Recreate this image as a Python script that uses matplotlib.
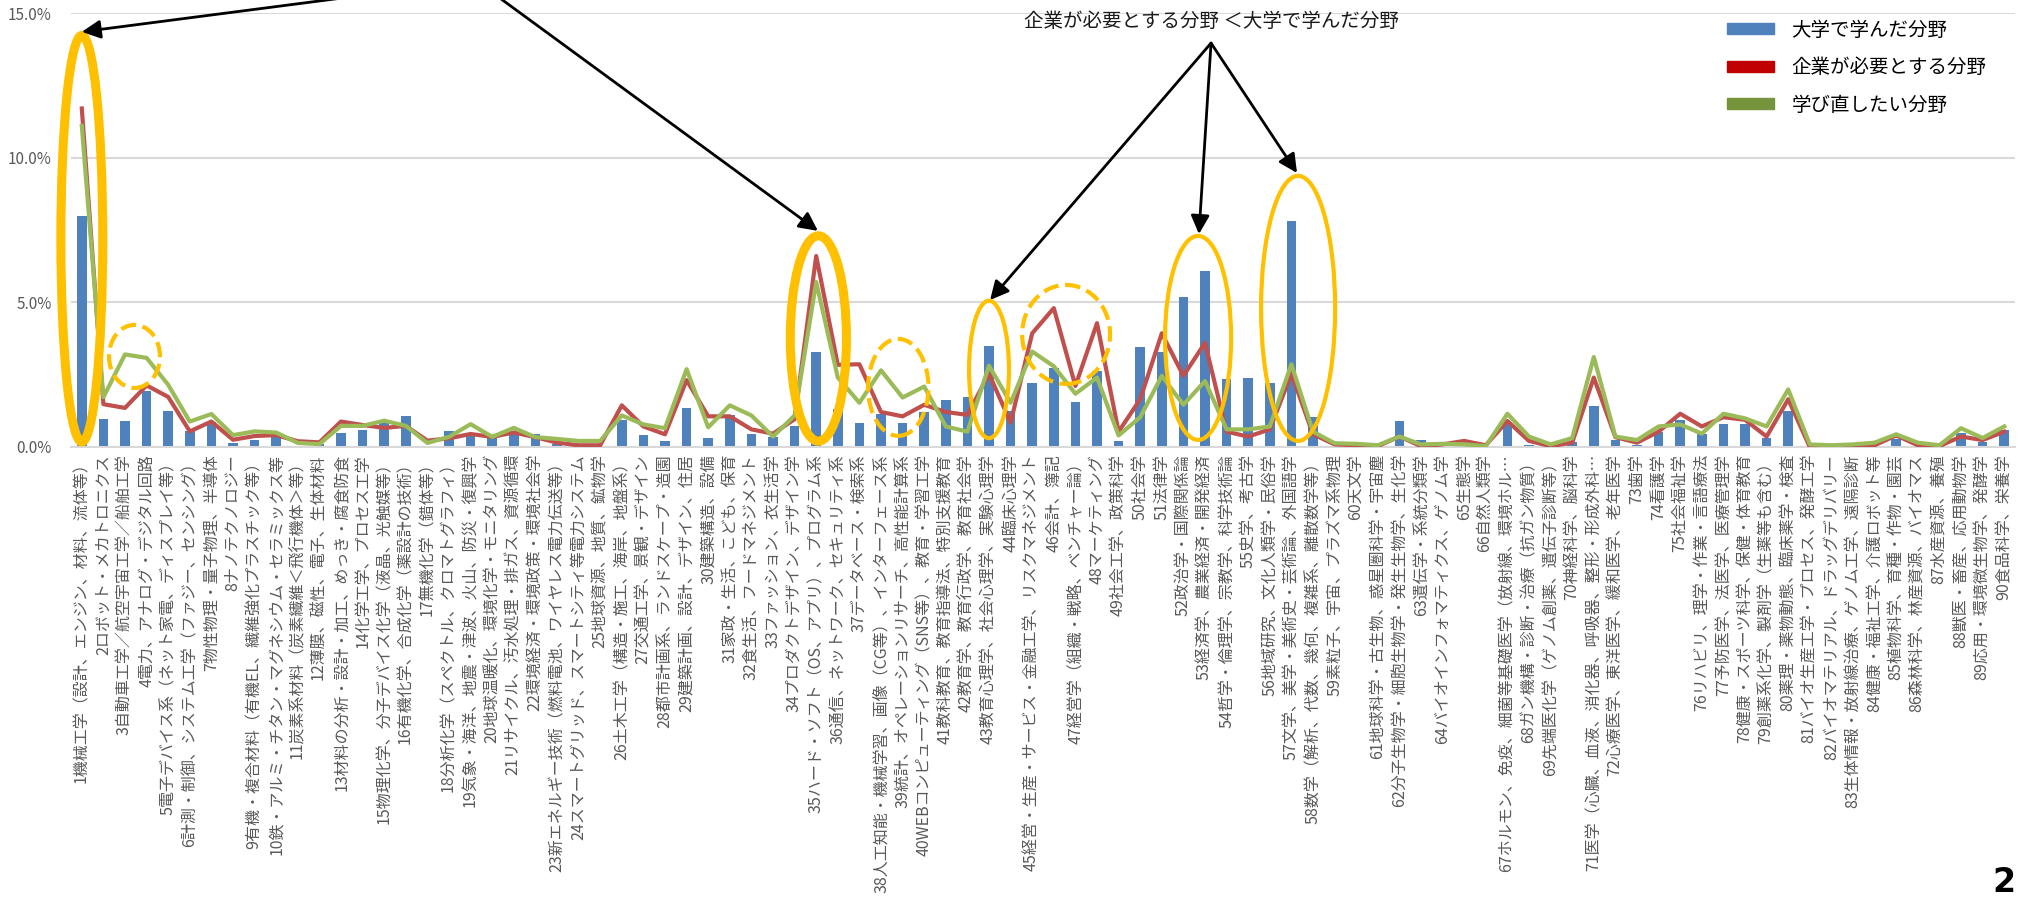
import numpy as np
import matplotlib
matplotlib.use("Agg")
import matplotlib.pyplot as plt
from matplotlib.patches import Ellipse, Patch

plt.rcParams['font.family'] = ['Noto Sans CJK JP', 'DejaVu Sans']

fields = [
    "1機械工学（設計、エンジン、材料、流体等）", "2ロボット・メカトロニクス", "3自動車工学／航空宇宙工学／船舶工学",
    "4電力、アナログ・デジタル回路", "5電子デバイス系（ネット家電、ディスプレイ等）",
    "6計測・制御、システム工学（ファジー、センシング）", "7物性物理・量子物理、半導体", "8ナノテクノロジー",
    "9有機・複合材料（有機EL、繊維強化プラスチック等）", "10鉄・アルミ・チタン・マグネシウム・セラミックス等",
    "11炭素系材料（炭素繊維＜飛行機体＞等）", "12薄膜、磁性、電子、生体材料", "13材料の分析・設計・加工、めっき・腐食防食",
    "14化学工学、プロセス工学", "15物理化学、分子デバイス化学（液晶、光触媒等）", "16有機化学、合成化学（薬設計の技術）",
    "17無機化学（錯体等）", "18分析化学（スペクトル、クロマトグラフィ）", "19気象・海洋、地震・津波、火山、防災・復興学",
    "20地球温暖化、環境化学・モニタリング", "21リサイクル、汚水処理・排ガス、資源循環", "22環境経済・環境政策・環境社会学",
    "23新エネルギー技術（燃料電池、ワイヤレス電力伝送等）", "24スマートグリッド、スマートシティ等電力システム",
    "25地球資源、地質、鉱物学", "26土木工学（構造・施工、海岸、地盤系）", "27交通工学、景観・デザイン",
    "28都市計画系、ランドスケープ・造園", "29建築計画、設計、デザイン、住居", "30建築構造、設備",
    "31家政・生活、こども、保育", "32食生活、フードマネジメント", "33ファッション、衣生活学",
    "34プロダクトデザイン、デザイン学", "35ハード・ソフト（OS、アプリ）、プログラム系",
    "36通信、ネットワーク、セキュリティ系", "37データベース・検索系",
    "38人工知能・機械学習、画像（CG等）、インターフェース系", "39統計、オペレーションリサーチ、高性能計算系",
    "40WEBコンピューティング（SNS等）、教育・学習工学", "41教科教育、教育指導法、特別支援教育",
    "42教育学、教育行政学、教育社会学", "43教育心理学、社会心理学、実験心理学", "44臨床心理学",
    "45経営・生産・サービス・金融工学、リスクマネジメント", "46会計、簿記", "47経営学（組織・戦略、ベンチャー論）",
    "48マーケティング", "49社会工学、政策科学", "50社会学", "51法律学", "52政治学・国際関係論",
    "53経済学、農業経済・開発経済", "54哲学・倫理学、宗教学、科学技術論", "55史学、考古学",
    "56地域研究、文化人類学・民俗学", "57文学、美学・美術史・芸術論、外国語学",
    "58数学（解析、代数、幾何、複雑系、離散数学等）", "59素粒子、宇宙、プラズマ系物理", "60天文学",
    "61地球科学・古生物、惑星圏科学・宇宙塵", "62分子生物学・細胞生物学・発生生物学、生化学",
    "63遺伝学・系統分類学", "64バイオインフォマティクス、ゲノム学", "65生態学", "66自然人類学",
    "67ホルモン、免疫、細菌等基礎医学（放射線、環境ホル…", "68ガン機構・診断・治療（抗ガン物質）",
    "69先端医化学（ゲノム創薬、遺伝子診断等）", "70神経科学、脳科学",
    "71医学（心臓、血液、消化器、呼吸器、整形・形成外科…", "72心療医学、東洋医学、緩和医学、老年医学",
    "73歯学", "74看護学", "75社会福祉学", "76リハビリ、理学・作業・言語療法", "77予防医学、法医学、医療管理学",
    "78健康・スポーツ科学、保健・体育教育", "79創薬系化学、製剤学（生薬等も含む）",
    "80薬理・薬物動態、臨床薬学・検査", "81バイオ生産工学・プロセス、発酵工学",
    "82バイオマテリアル、ドラッグデリバリー", "83生体情報・放射線治療、ゲノム工学、遠隔診断",
    "84健康・福祉工学、介護ロボット等", "85植物科学、育種・作物・園芸", "86森林科学、林産資源、バイオマス",
    "87水産資源、養殖", "88獣医・畜産、応用動物学", "89応用・環境微生物学、発酵学", "90食品科学、栄養学",
]

# 大学で学んだ分野 (%)
univ = [8.0, 0.98, 0.91, 1.95, 1.26, 0.55, 0.85, 0.14, 0.25, 0.41,
        0.03, 0.10, 0.50, 0.60, 0.95, 1.08, 0.04, 0.54, 0.41, 0.33,
        0.44, 0.46, 0.09, 0.03, 0.03, 0.94, 0.40, 0.21, 1.36, 0.30,
        1.11, 0.46, 0.34, 0.71, 3.28, 1.31, 0.84, 1.15, 0.84, 1.21,
        1.61, 1.74, 3.49, 1.24, 2.21, 2.73, 1.56, 2.63, 0.20, 3.46,
        3.30, 5.18, 6.10, 2.34, 2.40, 2.21, 7.80, 1.03, 0.0, 0.0,
        0.0, 0.90, 0.24, 0.0, 0.24, 0.0, 0.78, 0.06, 0.0, 0.19,
        1.43, 0.24, 0.06, 0.53, 0.94, 0.46, 0.78, 0.81, 0.31, 1.24,
        0.0, 0.0, 0.0, 0.0, 0.28, 0.0, 0.0, 0.49, 0.19, 0.59]

# 企業が必要とする分野 (%)
company = [11.7, 1.48, 1.35, 2.13, 1.73, 0.54, 0.88, 0.25, 0.38, 0.41,
           0.20, 0.16, 0.88, 0.76, 0.66, 0.73, 0.22, 0.30, 0.45, 0.35,
           0.50, 0.34, 0.15, 0.06, 0.06, 1.44, 0.71, 0.44, 2.31, 1.06,
           1.06, 0.61, 0.46, 0.96, 6.60, 2.84, 2.86, 1.21, 1.06, 1.46,
           1.21, 1.11, 2.53, 0.84, 3.93, 4.80, 2.11, 4.28, 0.53, 1.65,
           3.93, 2.46, 3.60, 0.53, 0.36, 0.61, 2.53, 0.44, 0.09, 0.06,
           0.03, 0.36, 0.03, 0.09, 0.21, 0.06, 0.90, 0.21, 0.03, 0.15,
           2.40, 0.34, 0.15, 0.53, 1.15, 0.71, 1.03, 0.94, 0.36, 1.65,
           0.0, 0.01, 0.03, 0.06, 0.40, 0.06, 0.03, 0.36, 0.24, 0.53]

# 学び直したい分野 (%)
relearn = [11.1, 1.72, 3.20, 3.08, 2.15, 0.88, 1.14, 0.41, 0.54, 0.50,
           0.14, 0.10, 0.73, 0.73, 0.91, 0.73, 0.14, 0.35, 0.79, 0.35,
           0.66, 0.34, 0.28, 0.21, 0.21, 1.09, 0.78, 0.65, 2.69, 0.68,
           1.44, 1.09, 0.36, 1.09, 5.70, 2.40, 1.53, 2.65, 1.71, 2.09,
           0.71, 0.53, 2.81, 1.53, 3.30, 2.79, 1.84, 2.40, 0.40, 1.03,
           2.46, 1.46, 2.28, 0.61, 0.61, 0.71, 2.86, 0.53, 0.13, 0.11,
           0.06, 0.36, 0.09, 0.11, 0.09, 0.03, 1.15, 0.36, 0.09, 0.31,
           3.11, 0.36, 0.24, 0.71, 0.78, 0.46, 1.15, 0.99, 0.71, 1.99,
           0.09, 0.06, 0.09, 0.15, 0.44, 0.15, 0.06, 0.65, 0.31, 0.71]

series_names = ["大学で学んだ分野", "企業が必要とする分野", "学び直したい分野"]

W, H = 2018, 906
fig = plt.figure(figsize=(W / 100, H / 100), dpi=100)
ax = fig.add_axes([71 / W, 1 - 447 / H, (2015 - 71) / W, (447 - 13) / H])

x = np.arange(len(fields))
ax.bar(x, univ, width=0.45, color="#4F81BD", zorder=2)
ax.plot(x, company, color="#C0504D", lw=3, zorder=3)
ax.plot(x, relearn, color="#9BBB59", lw=3, zorder=4)

ax.set_xlim(-0.5, len(fields) - 0.5)
ax.set_ylim(0, 15)
ax.set_yticks([0, 5, 10, 15])
ax.set_yticklabels([f"{v:.1f}%" for v in [0, 5, 10, 15]], fontsize=11, color="#595959")
ax.set_xticks(x)
ax.set_xticklabels(fields, rotation=90, fontsize=11.5, color="#595959")
ax.tick_params(axis="both", length=0)
ax.tick_params(axis="y", pad=14)
ax.tick_params(axis="x", pad=5)
ax.yaxis.grid(True, color="#D9D9D9", lw=1.5)
ax.set_axisbelow(True)
for s in ["top", "right", "left"]:
    ax.spines[s].set_visible(False)
ax.spines["bottom"].set_color("#D9D9D9")
ax.spines["bottom"].set_linewidth(1.5)

# orange highlight ellipses (centre x, centre y, width, height, lw, style)
rings = [
    (0.0, 7.2, 1.94, 14.05, 6.5, "-"),
    (2.44, 3.13, 2.36, 2.18, 3, "--"),
    (34.1, 3.75, 2.6, 7.1, 6.5, "-"),
    (37.8, 2.06, 2.8, 3.35, 3, "--"),
    (42.0, 2.68, 1.85, 4.75, 3, "-"),
    (45.57, 3.89, 4.07, 3.42, 3, "--"),
    (51.68, 3.77, 3.06, 7.05, 3, "-"),
    (56.31, 4.79, 3.43, 9.16, 3, "-"),
]
for cx, cy, w, h, lw, ls in rings:
    ax.add_patch(Ellipse((cx, cy), w, h, fill=False, edgecolor="#FFC000",
                         lw=lw, ls=ls, zorder=6, clip_on=False))

arrow_kw = dict(arrowstyle="-|>", color="black", lw=2, mutation_scale=28,
                shrinkA=0, shrinkB=0)
# arrows coming from above the chart
ax.annotate("", xy=(0.0, 14.35), xytext=(12.9, 15.6), arrowprops=arrow_kw,
            annotation_clip=False, zorder=7)
ax.annotate("", xy=(34.08, 7.47), xytext=(19.2, 15.6), arrowprops=arrow_kw,
            annotation_clip=False, zorder=7)

ax.text(52.28, 14.69, "企業が必要とする分野 ＜大学で学んだ分野", ha="center", va="center",
        fontsize=14, color="#1A1A1A", zorder=7)
for tip in [(42.05, 5.08), (51.72, 7.36), (56.26, 9.47)]:
    ax.annotate("", xy=tip, xytext=(52.28, 13.96), arrowprops=arrow_kw,
                annotation_clip=False, zorder=7)

handles = [Patch(color="#4F81BD"), Patch(color="#C00000"), Patch(color="#77933C")]
ax.legend(handles, series_names, loc="upper left", bbox_to_anchor=(0.852, 0.985),
          frameon=False, fontsize=14, handlelength=2.4, handleheight=0.5,
          handletextpad=0.9, labelspacing=0.85, borderaxespad=0, borderpad=0)

fig.text(2004 / W, 1 - 883 / H, "2", fontsize=24, fontweight="bold",
         ha="center", va="center", family="DejaVu Sans")

fig.savefig("out.png", dpi=100)
